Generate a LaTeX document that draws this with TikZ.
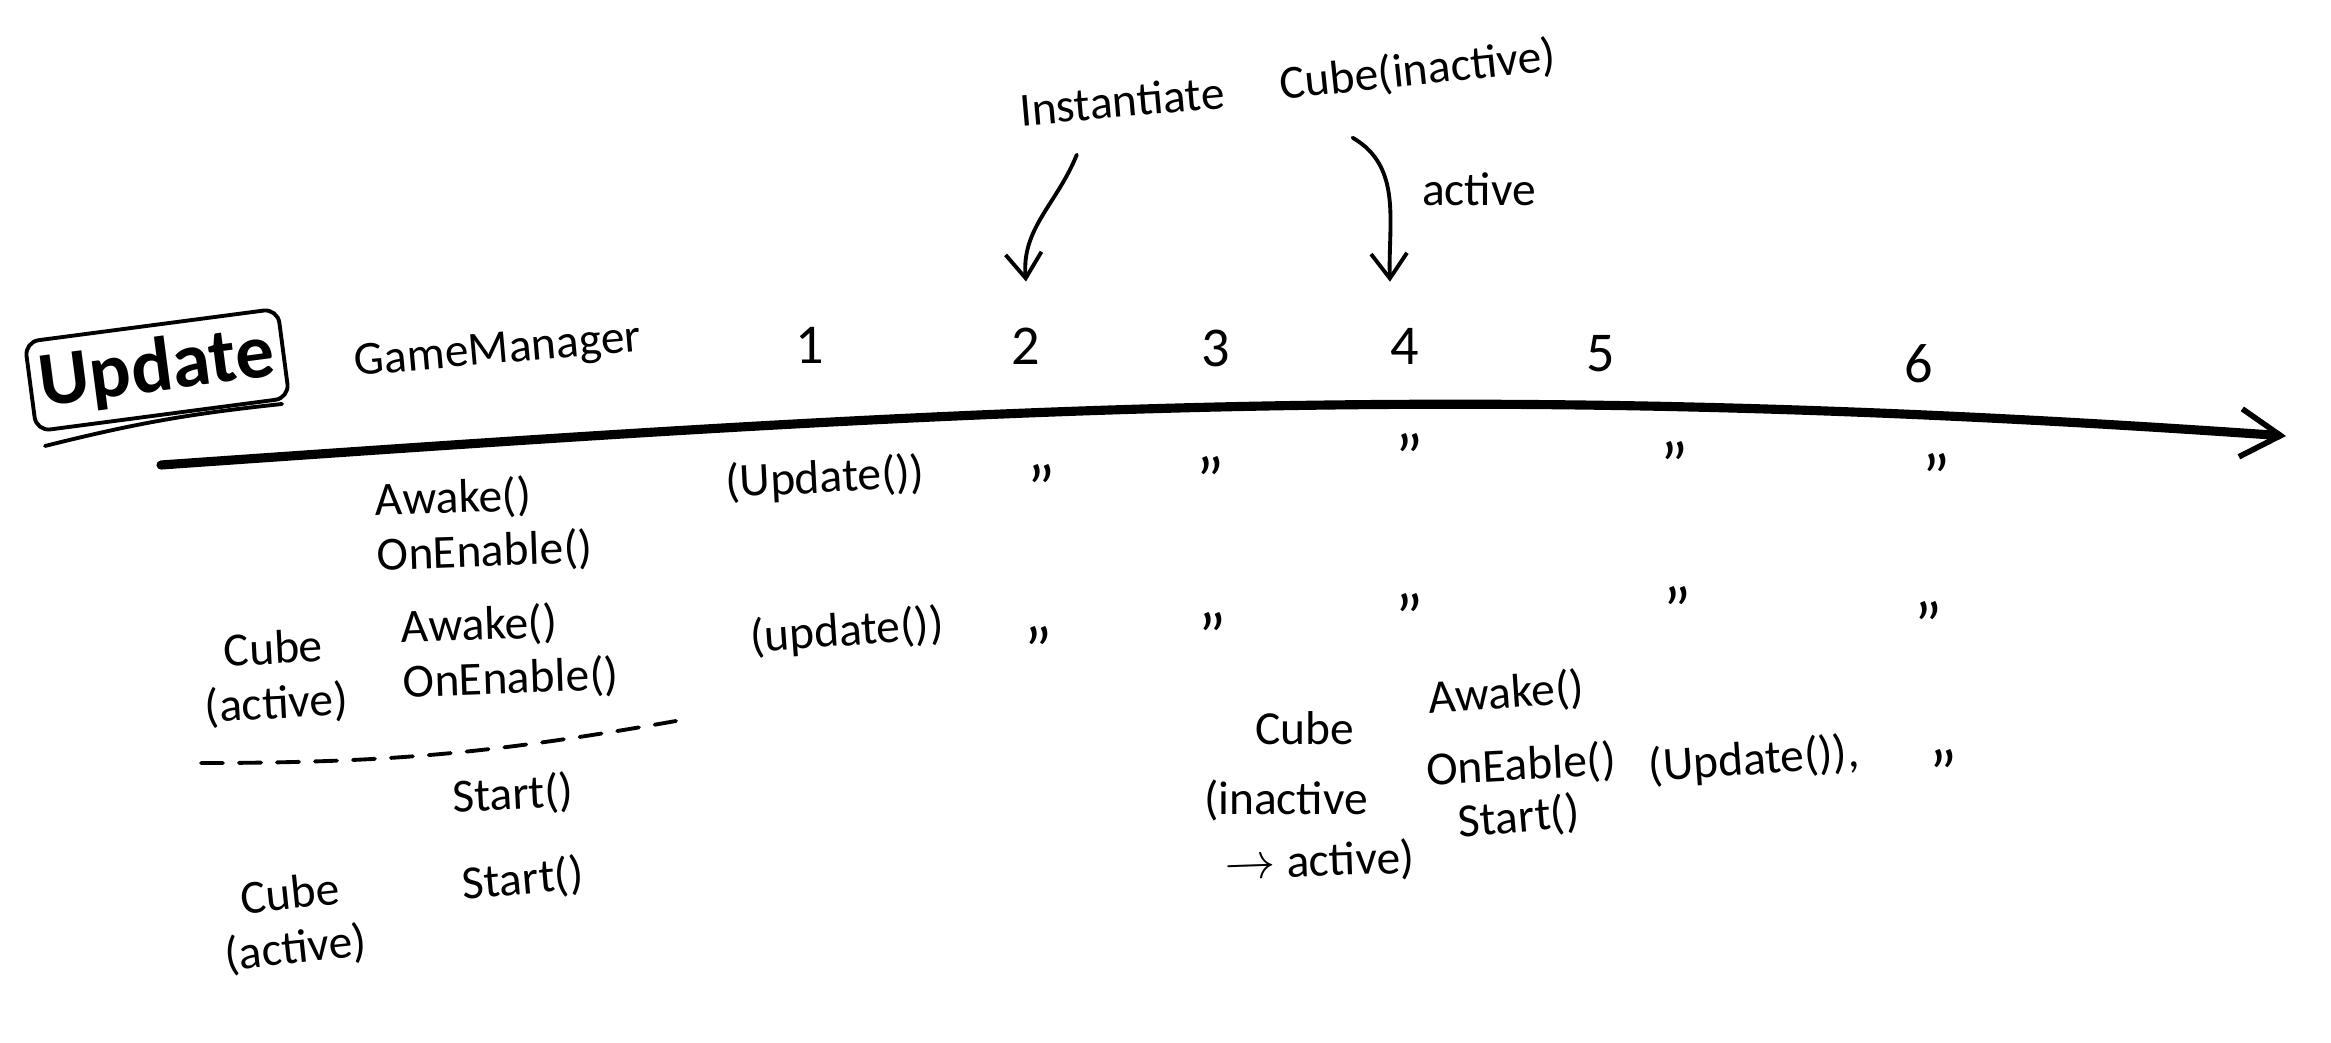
\documentclass[tikz,border=0pt]{standalone}
\usepackage{fontspec}
\setmainfont{Carlito}
\usetikzlibrary{arrows.meta}
\tikzset{
    hand/.style={font=\fontsize{13.5}{15.5}\selectfont,inner sep=1pt},
    stack/.style={hand,align=left,anchor=west},
    num/.style={font=\fontsize{16}{18}\selectfont,inner sep=1pt},
    ditto/.style={font=\fontsize{19}{20}\selectfont,inner sep=1pt,yshift=-1.5mm},
    updbox/.style={draw,line width=1.1pt,rounded corners=4pt,font=\fontsize{22}{24}\selectfont\bfseries,
        minimum width=2.55cm,minimum height=0.9cm,inner sep=2pt},
    stroke/.style={line width=1.1pt,line cap=round},
    barb/.style={-{Straight Barb[length=2.5mm,width=3.6mm]}}
}

\begin{document}
\begin{tikzpicture}
    \useasboundingbox (0,0) rectangle (23.31,-10.43);
    % title box and timeline
    \node [updbox,rotate=7.5] (upd) at (1.57,-3.70) {Update};
    \coordinate (ul0) at (0.45,-4.46);
    \coordinate (ul1) at (2.82,-4.04);
    \draw [stroke] (ul0) to[bend left=4] (ul1);
    \node [hand,rotate=5] (gm) at (4.98,-3.52) {GameManager};
    \coordinate (t0) at (1.61,-4.65);
    \coordinate (t1) at (22.86,-4.36);
    \draw [line width=2.6pt,line cap=round,
        -{Straight Barb[length=4mm,width=4.8mm,line width=1.6pt]}] (t0) to[out=4,in=176] (t1);
    \foreach \n/\x/\y in {1/8.10/-3.45,2/10.26/-3.46,3/12.16/-3.48,4/14.05/-3.46,5/16.01/-3.54,6/19.19/-3.64} {
        \node [num] (n\n) at (\x,\y) {\n};
    }
    % instantiate
    \node [hand,rotate=5] (inst) at (11.22,-1.01) {Instantiate};
    \node [hand,rotate=6] (cinact) at (14.18,-0.71) {Cube(inactive)};
    \node [hand] (act) at (14.79,-1.89) {active};
    \draw [stroke,barb] ([xshift=-4.7mm,yshift=-3.3mm]inst.south)
        to[out=-112,in=95] ([yshift=4.2mm]n2.north);
    \draw [stroke,barb] ([xshift=-6.8mm,yshift=-4.2mm]cinact.south)
        to[out=-30,in=92] ([xshift=-1.5mm,yshift=4.2mm]n4.north);
    % GameManager row
    \node [stack,rotate=2] (gmcall) at (3.72,-5.29) {Awake()\\OnEnable()};
    \node [hand,rotate=3] (gmupd) at (8.25,-4.79) {(Update())};
    \foreach \x/\y [count=\i] in {10.41/-4.73,12.10/-4.65,14.09/-4.42,16.74/-4.50,19.36/-4.62} {
        \node [ditto] (da\i) at (\x,\y) {"};
    }
    % active cube row
    \node [hand,align=center,rotate=3] (cb1) at (2.75,-6.78) {Cube\\(active)};
    \node [stack,rotate=2] (cbcall) at (3.98,-6.56) {Awake()\\OnEnable()};
    \node [hand,rotate=4] (cbupd) at (8.47,-6.32) {(update())};
    \foreach \x/\y [count=\i] in {10.38/-6.35,12.12/-6.21,14.09/-6.02,16.77/-5.95,19.28/-6.10} {
        \node [ditto] (db\i) at (\x,\y) {"};
    }
    \coordinate (dl0) at (2.01,-7.63);
    \coordinate (dl1) at (6.76,-7.21);
    \draw [stroke,dash pattern=on 2.2mm off 1.6mm] (dl0) to[out=0,in=190] (dl1);
    \node [hand,rotate=3] (gmst) at (5.13,-7.95) {Start()};
    \node [hand,align=center,rotate=6] (cb2) at (2.93,-9.23) {Cube\\(active)};
    \node [hand,rotate=5] (cbst) at (5.23,-8.80) {Start()};
    % new cube at 4
    \node [hand] (cb3) at (13.05,-7.28) {Cube};
    \node [hand] (cb3s) at (12.86,-8.00) {(inactive};
    \node [hand,rotate=2] (cb3t) at (13.20,-8.62) {$\to$ active)};
    \node [hand,rotate=4] (nawk) at (15.06,-6.94) {Awake()};
    \node [hand,rotate=3] (nen) at (15.21,-7.66) {OnEable()};
    \node [hand,rotate=4] (nupd) at (17.54,-7.61) {(Update()),};
    \node [hand,rotate=5] (nst) at (15.19,-8.18) {Start()};
    \node [ditto] (dc1) at (19.43,-7.58) {"};
\end{tikzpicture}
\end{document}
